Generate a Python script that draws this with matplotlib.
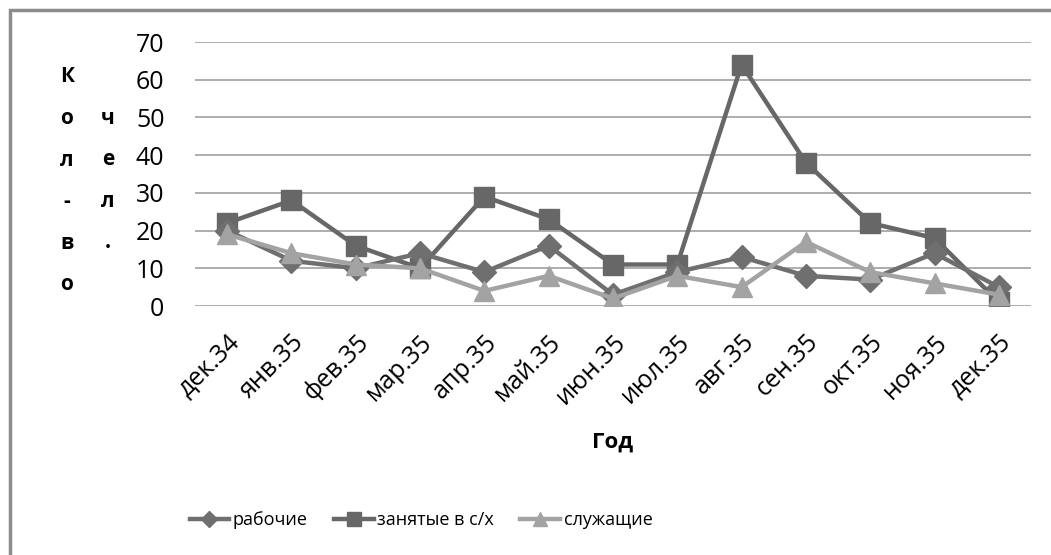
import matplotlib
matplotlib.use('Agg')

import matplotlib.pyplot as plt
from matplotlib.patches import Rectangle

# ---- data ----
months = ['дек.34', 'янв.35', 'фев.35', 'мар.35', 'апр.35', 'май.35', 'июн.35',
          'июл.35', 'авг.35', 'сен.35', 'окт.35', 'ноя.35', 'дек.35']
workers = [20, 12, 10, 14, 9, 16, 3, 9, 13, 8, 7, 14, 5]
farmers = [22, 28, 16, 10, 29, 23, 11, 11, 64, 38, 22, 18, 1]
clerks = [19, 14, 11, 10, 4, 8, 2, 8, 5, 17, 9, 6, 3]
y_ticks = [0, 10, 20, 30, 40, 50, 60, 70]

plt.rcParams['font.family'] = ['Open Sans', 'DejaVu Sans']

W, H = 1051, 555
fig = plt.figure(figsize=(W / 100, H / 100), dpi=100)
ax = fig.add_axes([195 / W, 1 - 306 / H, (1031 - 195) / W, (306 - 42) / H])

x = list(range(len(months)))
ax.plot(x, workers, color='#6f6f6f', lw=3.2, marker='D', ms=12, label='рабочие', zorder=3)
ax.plot(x, farmers, color='#676767', lw=3.2, marker='s', ms=15, label='занятые в с/х', zorder=2)
ax.plot(x, clerks, color='#a3a3a3', lw=3.2, marker='^', ms=15, label='служащие', zorder=4)

ax.set_xlim(-0.5, len(months) - 0.5)
ax.set_ylim(0, 70)
ax.set_yticks(y_ticks)
ax.set_xticks(x)
ax.set_xticklabels(months, rotation=45, ha='right', rotation_mode='anchor')
ax.grid(axis='y', color='#a0a0a0', lw=1.2)
ax.set_axisbelow(True)
for s in ['top', 'right', 'left', 'bottom']:
    ax.spines[s].set_visible(False)
ax.tick_params(axis='both', length=0)
ax.tick_params(axis='y', pad=22, labelsize=18)
ax.tick_params(axis='x', pad=17, labelsize=18)

# stacked y label (Excel style)
col1 = 'Кол-во'
col2 = 'чел.'
for i, ch in enumerate(col1):
    fig.text(67 / W, 1 - (77 + i * 41.6) / H, ch, ha='center', va='center',
             fontsize=15, fontweight='bold')
for i, ch in enumerate(col2):
    fig.text(108 / W, 1 - (118 + i * 41.6) / H, ch, ha='center', va='center',
             fontsize=15, fontweight='bold')

fig.text(613 / W, 1 - 442 / H, 'Год', ha='center', va='center', fontsize=16, fontweight='bold')

fig.legend(loc='center', bbox_to_anchor=(421 / W, 1 - 520 / H), ncol=3, frameon=False,
           fontsize=13, handlelength=2.2, handletextpad=0.2, columnspacing=1.45,
           markerscale=0.7)

# outer border
fig.add_artist(Rectangle((10 / W, -0.1), 1.2, 1 - 10 / H + 0.1, transform=fig.transFigure,
                         fill=False, edgecolor='#8c8c8c', lw=2.5))

fig.savefig('out.png', dpi=100)
